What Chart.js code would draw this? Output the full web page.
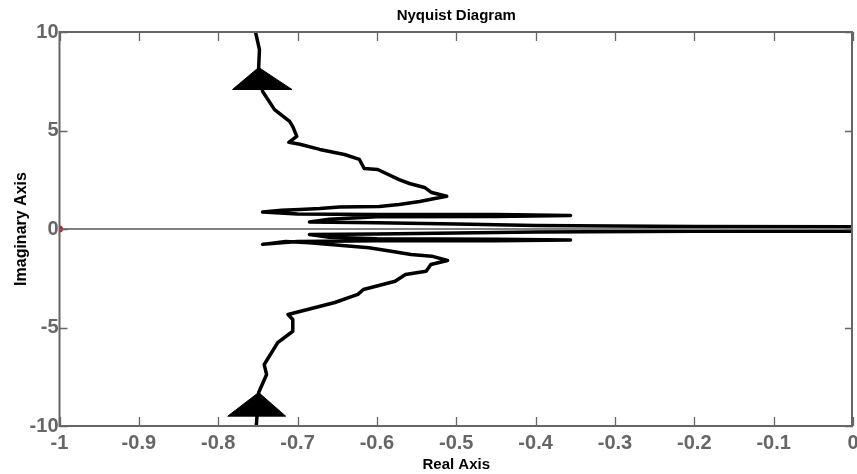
<!DOCTYPE html>
<html>
<head>
<meta charset="utf-8">
<script src="https://cdn.jsdelivr.net/npm/chart.js@4/dist/chart.umd.min.js"></script>
<style>
	body { margin: 0; background: #fff; }
	canvas { display: block; }
</style>
</head>
<body>
<canvas id="nyquist" width="857" height="474"></canvas>
<script>
// upper branch, from the origin out to the top edge
var upperX = [0, -0.2, -0.4, -0.5, -0.6, -0.685, -0.66, -0.6, -0.45, -0.356, -0.45, -0.6, -0.7, -0.744, -0.72, -0.697, -0.672, -0.647, -0.597, -0.572, -0.546, -0.527, -0.512, -0.531, -0.54, -0.559, -0.572, -0.599, -0.616, -0.622, -0.641, -0.672, -0.697, -0.711, -0.701, -0.706, -0.71, -0.729, -0.744, -0.749, -0.748, -0.753];
var upperY = [0.12, 0.13, 0.18, 0.25, 0.32, 0.36, 0.5, 0.62, 0.64, 0.68, 0.74, 0.74, 0.76, 0.86, 0.95, 0.99, 1.04, 1.12, 1.14, 1.24, 1.4, 1.55, 1.66, 1.85, 2.11, 2.31, 2.51, 3.02, 3.07, 3.53, 3.78, 4.04, 4.3, 4.4, 4.7, 5.2, 5.46, 6.06, 6.98, 8.2, 9.1, 10.0];

// lower branch, from the origin out to the bottom edge
var lowerX = [0, -0.2, -0.4, -0.5, -0.6, -0.685, -0.66, -0.6, -0.45, -0.356, -0.45, -0.6, -0.7, -0.744, -0.715, -0.685, -0.61, -0.582, -0.557, -0.531, -0.511, -0.532, -0.538, -0.564, -0.577, -0.617, -0.624, -0.653, -0.712, -0.706, -0.706, -0.725, -0.742, -0.739, -0.749, -0.752];
var lowerY = [-0.12, -0.12, -0.15, -0.2, -0.26, -0.28, -0.42, -0.5, -0.52, -0.56, -0.6, -0.6, -0.64, -0.78, -0.64, -0.7, -0.95, -1.13, -1.29, -1.38, -1.6, -1.8, -2.14, -2.31, -2.65, -3.07, -3.32, -3.73, -4.34, -4.59, -5.19, -5.77, -6.88, -7.39, -8.3, -10];

// direction arrows (filled triangles)
var arrowUpX = [-0.749, -0.782, -0.707, -0.749];
var arrowUpY = [8.2, 7.08, 7.08, 8.2];
var arrowDownX = [-0.749, -0.788, -0.715, -0.749];
var arrowDownY = [-8.3, -9.5, -9.5, -8.3];

// real axis line and the critical point
var zeroX = [-1, 0];
var zeroY = [0, 0];
var critX = [-1];
var critY = [0];

var axisColor = '#666666';
var fontFamily = 'Arial, "Liberation Sans", sans-serif';
var tickFont = { family: fontFamily, size: 20, weight: 'bold' };
var labelFont = { family: fontFamily, size: 15, weight: 'bold' };
var yLabelFont = { family: fontFamily, size: 16, weight: 'bold' };

function pts(xs, ys) {
	return xs.map(function(x, i) { return { x: x, y: ys[i] }; });
}

// box round the plot with inward tick marks, like the matlab axes
var boxPlugin = {
	id: 'boxPlugin',
	afterDatasetsDraw: function(chart) {
		var ctx = chart.ctx;
		var a = chart.chartArea;
		var xs = chart.scales.x, ys = chart.scales.y;
		ctx.save();
		ctx.strokeStyle = axisColor;
		ctx.lineWidth = 1.3;
		xs.ticks.forEach(function(t) {
			var px = Math.round(xs.getPixelForValue(t.value)) + 0.5;
			ctx.beginPath();
			ctx.moveTo(px, a.bottom); ctx.lineTo(px, a.bottom - 9);
			ctx.moveTo(px, a.top); ctx.lineTo(px, a.top + 9);
			ctx.stroke();
		});
		ys.ticks.forEach(function(t) {
			var py = Math.round(ys.getPixelForValue(t.value)) + 0.5;
			ctx.beginPath();
			ctx.moveTo(a.left, py); ctx.lineTo(a.left + 8, py);
			ctx.moveTo(a.right, py); ctx.lineTo(a.right - 8, py);
			ctx.stroke();
		});
		ctx.lineWidth = 2;
		ctx.strokeRect(a.left, a.top, a.right - a.left - 1, a.bottom - a.top);
		ctx.restore();
	}
};

var ctx = document.getElementById('nyquist').getContext('2d');

new Chart(ctx, {
	type: 'line',
	data: {
		datasets: [
			{
				data: pts(critX, critY),
				showLine: false,
				pointStyle: 'circle',
				pointRadius: 3.5,
				pointBorderWidth: 0,
				backgroundColor: '#ff0000',
				borderColor: '#ff0000'
			},
			{
				data: pts(zeroX, zeroY),
				borderColor: '#808080',
				borderWidth: 2,
				pointRadius: 0
			},
			{
				data: pts(arrowUpX, arrowUpY),
				borderColor: '#000',
				backgroundColor: '#000',
				borderWidth: 1,
				fill: 'shape',
				pointRadius: 0
			},
			{
				data: pts(arrowDownX, arrowDownY),
				borderColor: '#000',
				backgroundColor: '#000',
				borderWidth: 1,
				fill: 'shape',
				pointRadius: 0
			},
			{
				data: pts(upperX, upperY),
				borderColor: '#000',
				borderWidth: 3.5,
				borderCapStyle: 'round',
				borderJoinStyle: 'round',
				pointRadius: 0
			},
			{
				data: pts(lowerX, lowerY),
				borderColor: '#000',
				borderWidth: 3.5,
				borderCapStyle: 'round',
				borderJoinStyle: 'round',
				pointRadius: 0
			}
		]
	},
	options: {
		responsive: false,
		animation: false,
		devicePixelRatio: 1,
		layout: { padding: 0 },
		plugins: {
			legend: { display: false },
			tooltip: { enabled: false },
			title: {
				display: true,
				fullSize: false,
				text: 'Nyquist Diagram',
				color: '#000',
				font: labelFont,
				padding: { top: 6.5, bottom: 7.5 }
			}
		},
		scales: {
			x: {
				type: 'linear',
				min: -1,
				max: 0,
				grid: { display: false, drawTicks: false },
				border: { display: false },
				ticks: {
					stepSize: 0.1,
					color: axisColor,
					font: tickFont,
					padding: 5,
					maxRotation: 0,
					autoSkip: false,
					callback: function(v) { return String(Math.round(v * 10) / 10); }
				},
				title: {
					display: true,
					text: 'Real Axis',
					color: '#000',
					font: labelFont,
					padding: { top: 0, bottom: 0 }
				},
				afterFit: function(s) { s.height = 48; s.paddingLeft = 0; s.paddingRight = 0; }
			},
			y: {
				type: 'linear',
				min: -10,
				max: 10,
				grid: { display: false, drawTicks: false },
				border: { display: false },
				ticks: {
					stepSize: 5,
					color: axisColor,
					font: tickFont,
					padding: 1
				},
				title: {
					display: true,
					text: 'Imaginary Axis',
					color: '#000',
					font: yLabelFont,
					padding: { top: 11.5, bottom: 0 }
				},
				afterFit: function(s) { s.width = 59.5; s.paddingTop = 0; s.paddingBottom = 0; }
			}
		}
	},
	plugins: [boxPlugin]
});
</script>
</body>
</html>
